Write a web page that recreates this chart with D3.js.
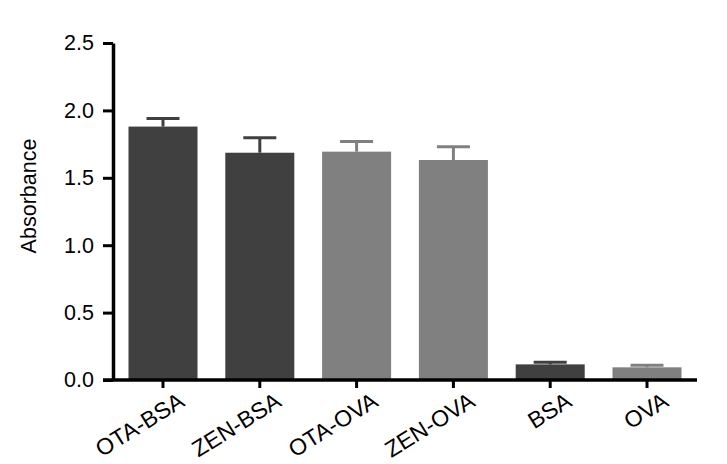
<!DOCTYPE html>
<html>
<head>
<meta charset="utf-8">
<script src="https://cdn.jsdelivr.net/npm/d3@7"></script>
<style>
  body { margin: 0; background: #fff; }
  svg text { font-family: "Liberation Sans", Arial, sans-serif; fill: #000; }
</style>
</head>
<body>
<svg id="chart"></svg>
<script>
const width = 727;
const height = 464;

// data
const categories = ['OTA-BSA', 'ZEN-BSA', 'OTA-OVA', 'ZEN-OVA', 'BSA', 'OVA'];
const means = [1.88, 1.686, 1.694, 1.632, 0.116, 0.094];
const errors = [0.06, 0.111, 0.076, 0.099, 0.015, 0.015];
const barColors = ['#404040', '#404040', '#808080', '#808080', '#404040', '#808080'];
const yTicks = [0, 0.5, 1.0, 1.5, 2.0, 2.5];

const svg = d3.select('#chart')
  .attr('width', width)
  .attr('height', height);

const x = d3.scaleBand()
  .domain(categories)
  .range([113, 697])
  .paddingInner(0.287)
  .paddingOuter(0.16);

const y = d3.scaleLinear()
  .domain([0, 2.5])
  .range([380, 43]);

//bars
svg.selectAll('rect.bar')
  .data(categories)
  .enter()
  .append('rect')
  .attr('class', 'bar')
  .attr('x', d => x(d))
  .attr('width', x.bandwidth())
  .attr('y', (d, i) => y(means[i]))
  .attr('height', (d, i) => y(0) - y(means[i]))
  .attr('fill', (d, i) => barColors[i]);

//error bars (upper only)
const capW = 33;
const err = svg.append('g').attr('class', 'errors');
categories.forEach((c, i) => {
  const cx = x(c) + x.bandwidth() / 2;
  err.append('line')
    .attr('x1', cx).attr('x2', cx)
    .attr('y1', y(means[i])).attr('y2', y(means[i] + errors[i]))
    .attr('stroke', barColors[i])
    .attr('stroke-width', 3);
  err.append('line')
    .attr('x1', cx - capW / 2).attr('x2', cx + capW / 2)
    .attr('y1', y(means[i] + errors[i])).attr('y2', y(means[i] + errors[i]))
    .attr('stroke', barColors[i])
    .attr('stroke-width', 3);
});

//y axis
const yAxis = svg.append('g')
  .attr('transform', 'translate(113,0)')
  .call(d3.axisLeft(y).tickValues(yTicks).tickFormat(d3.format('.1f')).tickSize(10).tickSizeOuter(0).tickPadding(9));
yAxis.select('.domain').attr('stroke-width', 3.5);
yAxis.selectAll('.tick line').attr('stroke-width', 3);
yAxis.selectAll('.tick text').style('font-size', '21.5px');

//x axis
const xAxis = svg.append('g')
  .attr('transform', 'translate(0,380)')
  .call(d3.axisBottom(x).tickSize(8).tickSizeOuter(0));
xAxis.select('.domain')
  .attr('d', 'M' + (x.range()[0] - 10) + ',0H' + x.range()[1])
  .attr('stroke-width', 3.5);
xAxis.selectAll('.tick line').attr('stroke-width', 3);
xAxis.selectAll('.tick text')
  .style('font-size', '23px')
  .style('text-anchor', 'end')
  .attr('dy', 0)
  .attr('y', 0)
  .attr('transform', 'translate(23,25) rotate(-32)');

svg.append('text')
  .attr('transform', 'translate(36,196) rotate(-90)')
  .style('text-anchor', 'middle')
  .style('font-size', '21.5px')
  .text('Absorbance');
</script>
</body>
</html>
